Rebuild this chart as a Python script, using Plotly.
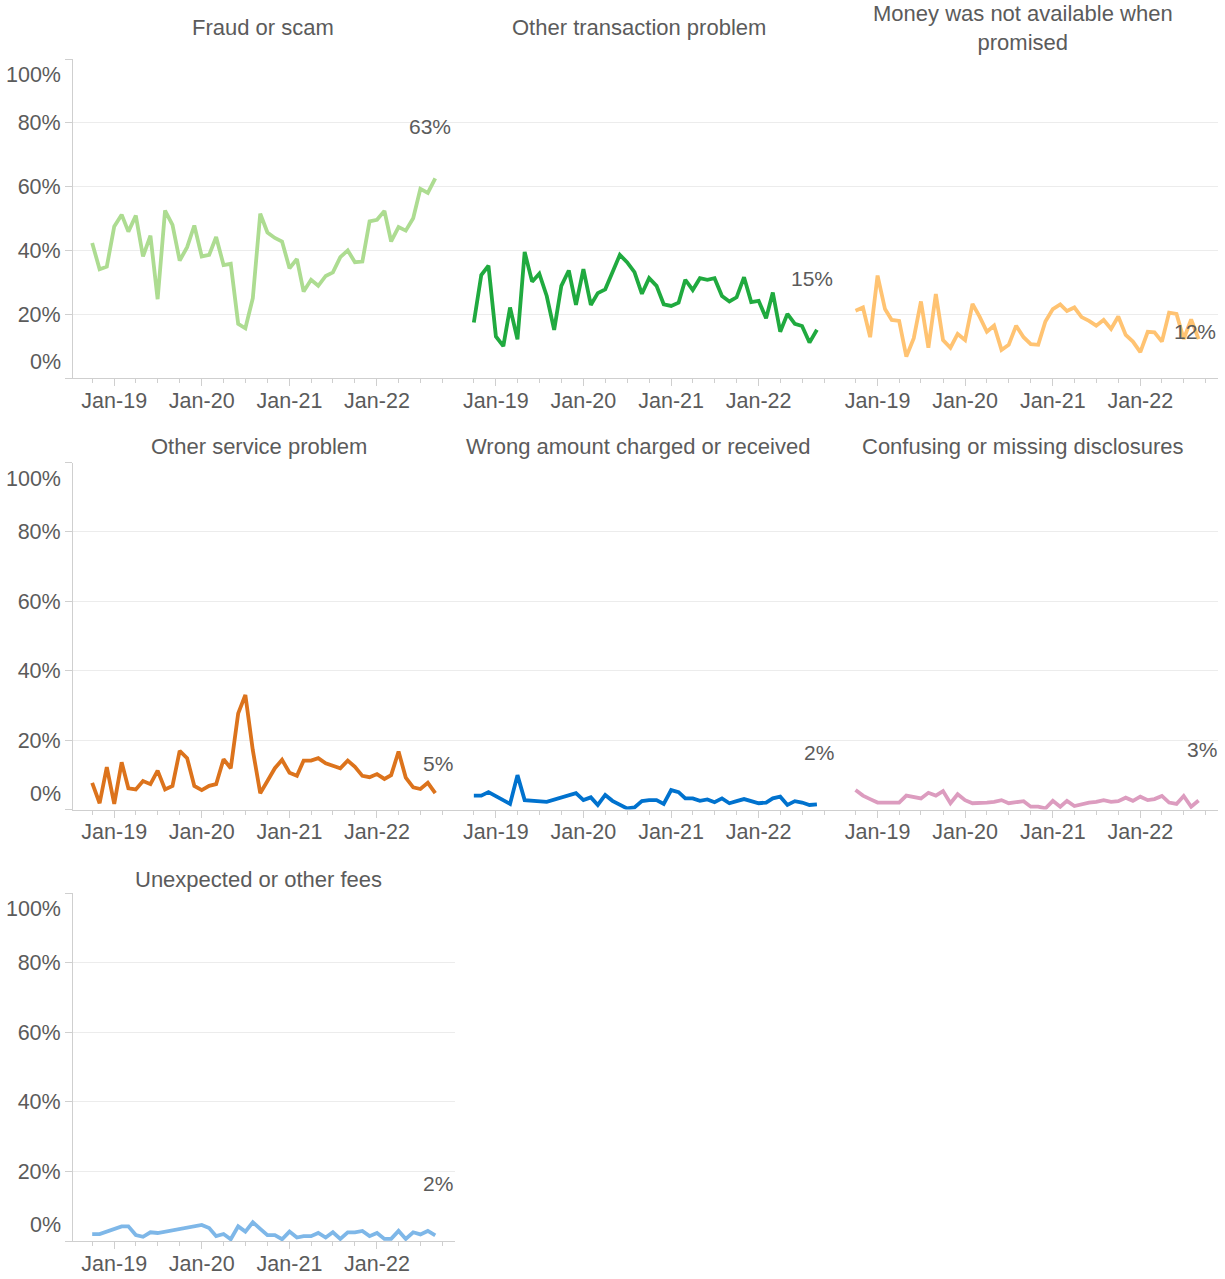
import pandas as pd
import plotly.graph_objects as go

# ---------------- data ----------------
months = pd.date_range("2018-10-01", periods=48, freq="MS")

titles = [
    "Fraud or scam",
    "Other transaction problem",
    "Money was not available when<br>promised",
    "Other service problem",
    "Wrong amount charged or received",
    "Confusing or missing disclosures",
    "Unexpected or other fees",
]

fraud = [42.3, 34.1, 34.9, 47.5, 51.2, 45.9, 50.9, 38.1, 44.6, 24.7, 52.5, 48.0,
         36.8, 41.0, 47.8, 38.1, 38.6, 44.2, 35.4, 35.8, 17.0, 15.6, 25.0, 51.5,
         45.6, 43.9, 42.8, 34.4, 37.3, 27.1, 30.8, 28.9, 32.0, 33.1, 37.9, 40.0,
         36.3, 36.5, 49.1, 49.6, 52.4, 42.8, 47.3, 46.2, 50.1, 59.3, 58.0, 62.6]
other_transaction = [17.4, 32.3, 35.2, 13.0, 10.0, 22.1, 12.1, 39.5, 30.2, 32.7, 25.7, 15.1,
                     28.9, 33.7, 22.9, 34.1, 22.9, 26.6, 27.8, 32.9, 38.6, 36.3, 33.2, 26.4,
                     31.3, 28.9, 23.1, 22.6, 23.6, 30.8, 27.6, 31.3, 30.8, 31.3, 25.7, 24.0,
                     25.3, 31.6, 23.8, 24.2, 18.7, 26.8, 14.5, 20.1, 17.0, 16.3, 11.1, 15.1]
money_not_available = [21.1, 22.1, 12.8, 32.1, 21.6, 18.2, 17.9, 6.7, 12.5, 24.0, 9.5, 26.3,
                       11.9, 9.5, 13.8, 11.9, 23.2, 19.3, 14.5, 16.4, 8.8, 10.4, 16.4, 12.8,
                       10.6, 10.4, 17.7, 21.6, 23.1, 21.0, 22.1, 19.1, 17.9, 16.4, 18.2, 15.4,
                       19.3, 13.5, 11.4, 8.1, 14.5, 14.3, 11.4, 20.5, 20.1, 12.2, 18.4, 12.2]
other_service = [7.7, 1.8, 12.2, 1.6, 13.6, 6.1, 5.8, 8.2, 7.3, 11.2, 5.8, 6.8,
                 16.9, 14.8, 6.8, 5.6, 6.8, 7.3, 14.5, 11.9, 27.7, 33.0, 17.1, 4.7,
                 8.2, 11.9, 14.3, 10.6, 9.7, 14.1, 14.1, 14.8, 13.3, 12.5, 11.9, 14.1,
                 12.3, 9.7, 9.3, 10.2, 8.8, 9.9, 16.7, 9.2, 6.4, 5.9, 7.7, 4.7]
wrong_amount = [4.0, 4.0, 5.0, None, None, 1.6, 9.9, 2.7, None, None, 2.2, None,
                None, None, 4.7, 2.7, 3.5, 1.3, 4.2, 2.5, 1.3, 0.3, 0.6, 2.4,
                2.7, 2.7, 1.6, 5.6, 5.0, 3.2, 3.2, 2.5, 2.9, 2.1, 3.2, 1.8,
                2.4, 3.0, 2.4, 1.8, 2.0, 3.2, 3.7, 1.3, 2.4, 2.0, 1.3, 1.5]
confusing_disclosures = [5.6, 4.0, 3.0, 2.0, 2.0, 2.0, 2.0, 4.0, 3.7, 3.2, 4.8, 4.0,
                         5.3, 1.8, 4.4, 2.7, 1.8, 1.8, 2.0, 2.2, 2.7, 1.8, 2.2, 2.4,
                         0.8, 0.8, 0.3, 2.5, 0.8, 2.5, 1.0, 1.5, 2.0, 2.2, 2.7, 2.2,
                         2.4, 3.4, 2.5, 3.7, 2.7, 3.0, 3.9, 2.0, 1.6, 3.9, 0.8, 2.6]
unexpected_fees = [2.0, 2.0, None, None, 4.2, 4.2, 1.7, 1.2, 2.5, 2.3, None, None,
                   None, None, None, 4.6, 3.7, 1.4, 2.0, 0.5, 4.2, 2.7, 5.4, 3.5,
                   1.7, 1.7, 0.5, 2.7, 1.0, 1.4, 1.4, 2.3, 1.0, 2.5, 0.6, 2.5,
                   2.5, 2.9, 1.4, 2.3, 0.6, 0.6, 2.9, 0.6, 2.5, 1.9, 2.9, 1.6]

series = [fraud, other_transaction, money_not_available, other_service,
          wrong_amount, confusing_disclosures, unexpected_fees]

y_ticks = [0, 20, 40, 60, 80, 100]
x_ticks = ["2019-01-01", "2020-01-01", "2021-01-01", "2022-01-01"]

# ---------------- styles ----------------
colors = ["#addc91", "#20aa3f", "#ffc372", "#dc731c", "#0072ce", "#dc9cbf", "#7eb7e8"]
panel_row = [0, 0, 0, 1, 1, 1, 2]
panel_col = [0, 1, 2, 0, 1, 2, 0]

W, H = 1225, 1279
ML, MR, MT, MB = 73, 7, 59, 38
PW, PH = W - ML - MR, H - MT - MB

def py(p):  # pixel (from top) -> paper y
    return (H - MB - p) / PH

def px(p):  # pixel (from left) -> paper x
    return (p - ML) / PW

row_pix = [(59, 378), (462.5, 809.5), (893, 1241)]
row_domains = [[py(b), py(t)] for t, b in row_pix]
col_domains = [[0, 1 / 3], [1 / 3, 2 / 3], [2 / 3, 1]]
title_pix = [(263, 28), (638.5, 28), (1023, 28), (258.5, 446), (637.5, 446),
             (1022.5, 446), (258, 879)]
label_shift = [(-5, 52), (-4.5, 51), (-4, 8), (2.5, 30), (2, 52), (3, 51), (2.5, 52)]

FONT = "Liberation Sans, Arial, sans-serif"
TXT = "#5b5b5b"
AXC = "#cfcfcf"
GRID = "#ececec"
FS_TITLE = 22
FS_TICK = 21.5
FS_LABEL = 21

fig = go.Figure()
annotations = []

for i, vals in enumerate(series):
    k = i + 1
    xa = "x" if k == 1 else f"x{k}"
    ya = "y" if k == 1 else f"y{k}"
    fig.add_trace(go.Scatter(
        x=months, y=vals, mode="lines", xaxis=xa, yaxis=ya,
        line=dict(color=colors[i], width=3.8), connectgaps=True,
        hoverinfo="x+y", showlegend=False,
    ))
    r, c = panel_row[i], panel_col[i]
    first_col = c == 0
    fig.layout[f"xaxis{k}" if k > 1 else "xaxis"] = dict(
        domain=col_domains[c], anchor=ya, automargin=False,
        range=["2018-07-13", "2022-11-21"], type="date",
        tickvals=x_ticks, tickformat="%b-%y",
        ticks="outside", ticklen=7, tickcolor=AXC, tickwidth=1,
        minor=dict(dtick="M3", tick0="2018-10-01", ticks="outside", ticklen=4,
                   tickcolor=AXC, showgrid=False),
        showline=True, linecolor=AXC, linewidth=1,
        showgrid=False, zeroline=False,
        tickfont=dict(family=FONT, size=FS_TICK, color=TXT),
        ticklabelstandoff=-4, fixedrange=True,
    )
    fig.layout[f"yaxis{k}" if k > 1 else "yaxis"] = dict(
        domain=row_domains[r], anchor=xa, range=[0, 100], automargin=False,
        tickvals=y_ticks,
        ticktext=["" if v in (0, 100) else f"{v}%" for v in y_ticks],
        showticklabels=first_col,
        ticks="outside" if first_col else "", ticklen=7, tickcolor=AXC,
        showline=first_col, linecolor=AXC, linewidth=1,
        showgrid=True, gridcolor=GRID, gridwidth=1, zeroline=False,
        tickfont=dict(family=FONT, size=FS_TICK, color=TXT),
        ticklabelstandoff=0, fixedrange=True,
    )
    # panel title
    tx, ty = title_pix[i]
    annotations.append(dict(
        text=titles[i], xref="paper", yref="paper", x=px(tx), y=py(ty),
        xanchor="center", yanchor="middle", showarrow=False,
        font=dict(family=FONT, size=FS_TITLE, color=TXT),
    ))
    # end-of-line value label
    last_x = [m for m, v in zip(months, vals) if v is not None][-1]
    last_v = [v for v in vals if v is not None][-1]
    dx, dy = label_shift[i]
    annotations.append(dict(
        text=f"{last_v:.0f}%", xref=xa, yref=ya, x=last_x, y=last_v,
        xanchor="center", yanchor="middle", xshift=dx, yshift=dy, showarrow=False,
        font=dict(family=FONT, size=FS_LABEL, color=TXT),
    ))
    # 0% / 100% labels nudged inward (first column only)
    if first_col:
        for v, shift in ((0, 16), (100, -16)):
            annotations.append(dict(
                text=f"{v}%", xref="paper", yref=ya, x=0, y=v,
                xanchor="right", yanchor="middle", xshift=-10, yshift=shift,
                showarrow=False, font=dict(family=FONT, size=FS_TICK, color=TXT),
            ))

fig.update_layout(
    width=W, height=H, autosize=False,
    margin=dict(l=ML, r=MR, t=MT, b=MB, pad=0, autoexpand=False),
    paper_bgcolor="white", plot_bgcolor="white",
    font=dict(family=FONT, size=FS_TICK, color=TXT),
    annotations=annotations,
    showlegend=False,
)

fig.write_html("out.html", config={"displayModeBar": False},
               post_script="document.body.style.margin='0';")
